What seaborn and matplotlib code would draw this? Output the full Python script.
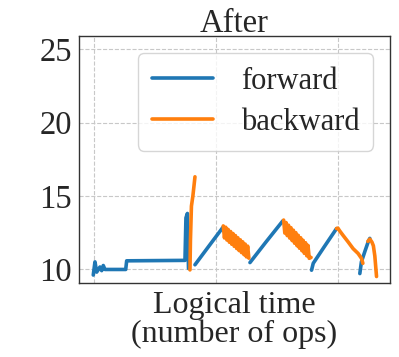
import numpy as np
import matplotlib
matplotlib.use("Agg")
import matplotlib.pyplot as plt
import seaborn as sns

# data, x in ops (grid every 1000), y in value units
fwd1_x = [-6, 8, 22, 49, 63, 76, 90, 260, 268, 746, 754, 766, 775]
fwd1_y = [9.6, 10.5, 9.8, 10.15, 9.9, 10.25, 9.98, 9.98, 10.57, 10.6, 13.5, 13.8, 10.05]

bwd1_x = [787, 791, 799, 811, 828]
bwd1_y = [9.95, 12.0, 14.3, 15.0, 16.3]

fwd2_x = [828, 940, 1057]
fwd2_y = [10.3, 11.55, 12.85]

bwd2_x = [1060, 1070, 1080, 1090, 1100, 1110, 1120, 1130, 1140, 1150, 1160,
          1170, 1180, 1190, 1200, 1210, 1220, 1230, 1240, 1250, 1260, 1270]
bwd2_y = [12.95, 12.13, 12.86, 11.99, 12.71, 11.84, 12.57, 11.70, 12.43, 11.56, 12.29,
          11.41, 12.14, 11.27, 12.00, 11.13, 11.86, 10.99, 11.71, 10.84, 11.57, 10.75]

fwd3_x = [1279, 1410, 1549]
fwd3_y = [10.45, 11.85, 13.3]

bwd3_x = [1555, 1565, 1575, 1585, 1595, 1605, 1615, 1625, 1635, 1645, 1655, 1665,
          1675, 1685, 1695, 1705, 1715, 1725, 1735, 1745, 1755, 1765, 1780]
bwd3_y = [13.35, 12.46, 13.18, 12.29, 13.00, 12.12, 12.83, 11.95, 12.66, 11.77, 12.49, 11.60,
          12.31, 11.43, 12.14, 11.26, 11.97, 11.08, 11.80, 10.91, 11.62, 10.74, 10.8]

fwd4_x = [1784, 1798, 1890, 1989]
fwd4_y = [9.93, 10.4, 11.55, 12.77]

bwd4_x = [1989, 2000, 2016, 2043, 2084, 2125, 2166, 2194, 2205]
bwd4_y = [12.77, 12.8, 12.6, 12.3, 11.86, 11.4, 11.07, 10.73, 10.4]

fwd5_x = [2180, 2193, 2221, 2250, 2262]
fwd5_y = [9.7, 10.5, 11.2, 11.9, 12.1]

bwd5_x = [2246, 2262, 2279, 2291, 2303, 2317]
bwd5_y = [11.9, 12.05, 11.85, 11.6, 10.9, 9.5]

blue = "#1f77b4"
orange = "#ff7f0e"

sns.set_style("whitegrid", {"grid.linestyle": "--", "grid.color": "#c8c8c8",
                            "axes.edgecolor": "#333333"})
plt.rcParams["font.family"] = ["Liberation Serif", "DejaVu Serif"]

fig = plt.figure(figsize=(3.99, 3.57), dpi=100)
ax = fig.add_axes([0.198, 0.207, 0.779, 0.692])

fwd = [(fwd1_x, fwd1_y), (fwd2_x, fwd2_y), (fwd3_x, fwd3_y), (fwd4_x, fwd4_y), (fwd5_x, fwd5_y)]
bwd = [(bwd1_x, bwd1_y), (bwd2_x, bwd2_y), (bwd3_x, bwd3_y), (bwd4_x, bwd4_y), (bwd5_x, bwd5_y)]

for i, (x, y) in enumerate(fwd):
    sns.lineplot(x=x, y=y, color=blue, lw=2.6, sort=False, estimator=None, ax=ax,
                 label="forward" if i == 0 else None)
for i, (x, y) in enumerate(bwd):
    sns.lineplot(x=x, y=y, color=orange, lw=2.6, sort=False, estimator=None, ax=ax,
                 label="backward" if i == 0 else None)

ax.set_xlim(-123, 2426)
ax.set_ylim(9.05, 25.9)
ax.set_xticks([0, 1000, 2000])
ax.set_xticklabels([])
ax.set_yticks([10, 15, 20, 25])
ax.tick_params(axis="both", length=3, color="#333333", labelsize=23.5, pad=2)
ax.grid(True, linestyle="--", color="#c8c8c8", lw=0.8)
for s in ax.spines.values():
    s.set_visible(True)
    s.set_color("#333333")
    s.set_linewidth(1.0)

ax.set_title("After", fontsize=23.5, pad=3)
ax.set_xlabel("Logical time\n(number of ops)", fontsize=23, labelpad=1, linespacing=0.95)
ax.set_ylabel("")
ax.legend(loc="upper right", fontsize=22, handlelength=2.0, handletextpad=0.9,
          labelspacing=0.4, borderpad=0.45, borderaxespad=0.55, frameon=True)

fig.savefig("out.png", dpi=100)
